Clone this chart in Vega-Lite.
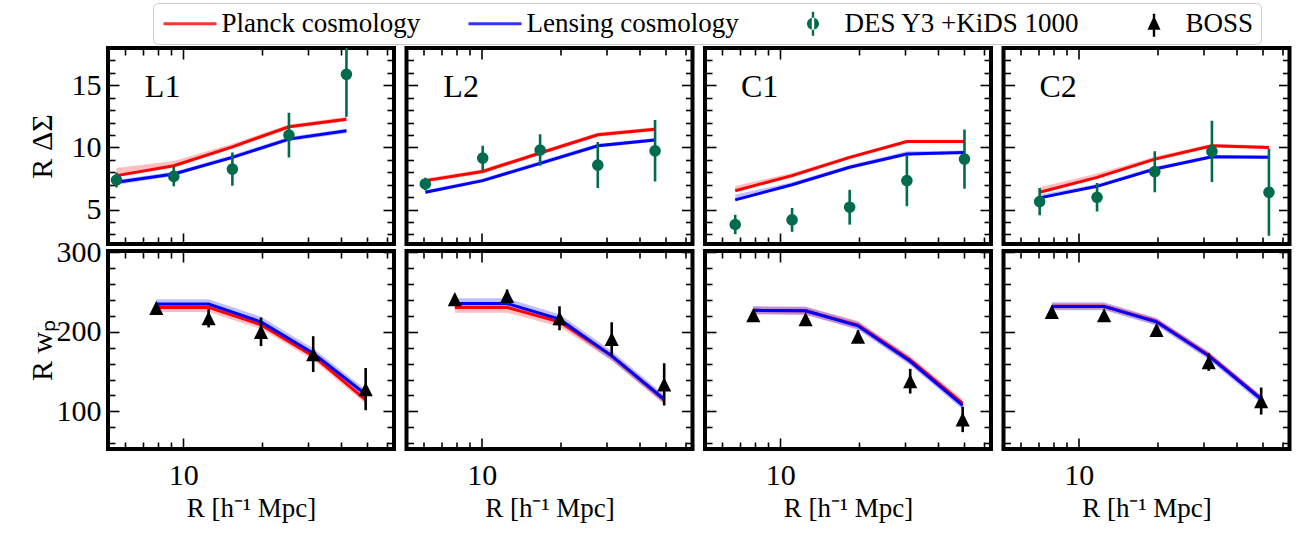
{
  "$schema": "https://vega.github.io/schema/vega-lite/v6.json",
  "autosize": {"type": "pad"},
  "padding": {"left": 25, "top": 2, "right": 4, "bottom": 3},
  "datasets": {
    "des": [
      {"s": "L1", "R": 5.57, "y": 7.38, "lo": 6.78, "hi": 7.98},
      {"s": "L1", "R": 9.21, "y": 7.67, "lo": 6.87, "hi": 8.47},
      {"s": "L1", "R": 15.4, "y": 8.26, "lo": 6.92, "hi": 9.6},
      {"s": "L1", "R": 25.3, "y": 10.99, "lo": 9.19, "hi": 12.79},
      {"s": "L1", "R": 41.9, "y": 15.88, "lo": 12.46, "hi": 19.3},
      {"s": "L2", "R": 6.1, "y": 7.06, "lo": 6.56, "hi": 7.56},
      {"s": "L2", "R": 10.09, "y": 9.14, "lo": 8.14, "hi": 10.14},
      {"s": "L2", "R": 16.7, "y": 9.79, "lo": 8.52, "hi": 11.06},
      {"s": "L2", "R": 27.7, "y": 8.58, "lo": 6.73, "hi": 10.43},
      {"s": "L2", "R": 45.8, "y": 9.73, "lo": 7.26, "hi": 12.2},
      {"s": "C1", "R": 6.74, "y": 3.8, "lo": 3.02, "hi": 4.58},
      {"s": "C1", "R": 11.1, "y": 4.17, "lo": 3.21, "hi": 5.13},
      {"s": "C1", "R": 18.4, "y": 5.19, "lo": 3.79, "hi": 6.59},
      {"s": "C1", "R": 30.4, "y": 7.33, "lo": 5.27, "hi": 9.39},
      {"s": "C1", "R": 50.4, "y": 9.06, "lo": 6.68, "hi": 11.44},
      {"s": "C2", "R": 7.1, "y": 5.64, "lo": 4.54, "hi": 6.74},
      {"s": "C2", "R": 11.75, "y": 5.99, "lo": 4.84, "hi": 7.14},
      {"s": "C2", "R": 19.5, "y": 8.05, "lo": 6.4, "hi": 9.7},
      {"s": "C2", "R": 32.2, "y": 9.68, "lo": 7.21, "hi": 12.15},
      {"s": "C2", "R": 53.1, "y": 6.39, "lo": 2.89, "hi": 9.89}
    ],
    "boss": [
      {"s": "L1", "R": 7.9, "y": 230, "lo": 225, "hi": 235},
      {"s": "L1", "R": 12.5, "y": 217, "lo": 205.5, "hi": 228.5},
      {"s": "L1", "R": 19.8, "y": 200, "lo": 182, "hi": 218},
      {"s": "L1", "R": 31.3, "y": 172, "lo": 149.5, "hi": 194.5},
      {"s": "L1", "R": 49.6, "y": 128, "lo": 101.5, "hi": 154.5},
      {"s": "L2", "R": 7.9, "y": 241, "lo": 237, "hi": 245},
      {"s": "L2", "R": 12.5, "y": 245, "lo": 237, "hi": 253},
      {"s": "L2", "R": 19.8, "y": 217, "lo": 202, "hi": 232},
      {"s": "L2", "R": 31.3, "y": 191, "lo": 170, "hi": 212},
      {"s": "L2", "R": 49.6, "y": 134, "lo": 107.5, "hi": 160.5},
      {"s": "C1", "R": 7.9, "y": 221, "lo": 218, "hi": 224},
      {"s": "C1", "R": 12.5, "y": 216, "lo": 212, "hi": 220},
      {"s": "C1", "R": 19.8, "y": 194, "lo": 186, "hi": 202},
      {"s": "C1", "R": 31.3, "y": 138, "lo": 122.5, "hi": 153.5},
      {"s": "C1", "R": 49.6, "y": 90, "lo": 74, "hi": 106},
      {"s": "C2", "R": 7.9, "y": 225, "lo": 222, "hi": 228},
      {"s": "C2", "R": 12.5, "y": 221, "lo": 218, "hi": 224},
      {"s": "C2", "R": 19.8, "y": 202.5, "lo": 197.5, "hi": 207.5},
      {"s": "C2", "R": 31.3, "y": 162, "lo": 151, "hi": 173},
      {"s": "C2", "R": 49.6, "y": 113, "lo": 96, "hi": 130}
    ],
    "mt": [
      {"s": "L1", "c": "Planck", "R": 5.57, "y": 7.73, "lo": 7.6, "hi": 8.35},
      {"s": "L1", "c": "Planck", "R": 9.21, "y": 8.53, "lo": 8.4, "hi": 8.9},
      {"s": "L1", "c": "Planck", "R": 15.4, "y": 10.05, "lo": 9.9, "hi": 10.3},
      {"s": "L1", "c": "Planck", "R": 25.3, "y": 11.66, "lo": 11.5, "hi": 11.85},
      {"s": "L1", "c": "Planck", "R": 41.9, "y": 12.27, "lo": 12.1, "hi": 12.45},
      {"s": "L1", "c": "Lensing", "R": 5.57, "y": 7.19, "lo": 7.0, "hi": 7.4},
      {"s": "L1", "c": "Lensing", "R": 9.21, "y": 7.86, "lo": 7.7, "hi": 8.05},
      {"s": "L1", "c": "Lensing", "R": 15.4, "y": 9.2, "lo": 9.05, "hi": 9.4},
      {"s": "L1", "c": "Lensing", "R": 25.3, "y": 10.67, "lo": 10.5, "hi": 10.85},
      {"s": "L1", "c": "Lensing", "R": 41.9, "y": 11.34, "lo": 11.15, "hi": 11.5},
      {"s": "L2", "c": "Planck", "R": 6.1, "y": 7.33, "lo": 7.15, "hi": 7.5},
      {"s": "L2", "c": "Planck", "R": 10.09, "y": 8.07, "lo": 7.9, "hi": 8.25},
      {"s": "L2", "c": "Planck", "R": 16.7, "y": 9.55, "lo": 9.4, "hi": 9.72},
      {"s": "L2", "c": "Planck", "R": 27.7, "y": 11.02, "lo": 10.85, "hi": 11.2},
      {"s": "L2", "c": "Planck", "R": 45.8, "y": 11.47, "lo": 11.3, "hi": 11.62},
      {"s": "L2", "c": "Lensing", "R": 6.1, "y": 6.39, "lo": 6.25, "hi": 6.55},
      {"s": "L2", "c": "Lensing", "R": 10.09, "y": 7.33, "lo": 7.2, "hi": 7.5},
      {"s": "L2", "c": "Lensing", "R": 16.7, "y": 8.72, "lo": 8.57, "hi": 8.9},
      {"s": "L2", "c": "Lensing", "R": 27.7, "y": 10.13, "lo": 9.98, "hi": 10.3},
      {"s": "L2", "c": "Lensing", "R": 45.8, "y": 10.59, "lo": 10.45, "hi": 10.75},
      {"s": "C1", "c": "Planck", "R": 6.74, "y": 6.52, "lo": 6.45, "hi": 6.9},
      {"s": "C1", "c": "Planck", "R": 11.1, "y": 7.73, "lo": 7.6, "hi": 7.95},
      {"s": "C1", "c": "Planck", "R": 18.4, "y": 9.2, "lo": 9.05, "hi": 9.35},
      {"s": "C1", "c": "Planck", "R": 30.4, "y": 10.48, "lo": 10.33, "hi": 10.62},
      {"s": "C1", "c": "Planck", "R": 50.4, "y": 10.48, "lo": 10.33, "hi": 10.62},
      {"s": "C1", "c": "Lensing", "R": 6.74, "y": 5.78, "lo": 5.72, "hi": 6.2},
      {"s": "C1", "c": "Lensing", "R": 11.1, "y": 7.0, "lo": 6.87, "hi": 7.2},
      {"s": "C1", "c": "Lensing", "R": 18.4, "y": 8.4, "lo": 8.27, "hi": 8.58},
      {"s": "C1", "c": "Lensing", "R": 30.4, "y": 9.47, "lo": 9.33, "hi": 9.7},
      {"s": "C1", "c": "Lensing", "R": 50.4, "y": 9.6, "lo": 9.47, "hi": 9.75},
      {"s": "C2", "c": "Planck", "R": 7.1, "y": 6.39, "lo": 6.3, "hi": 6.8},
      {"s": "C2", "c": "Planck", "R": 11.75, "y": 7.59, "lo": 7.45, "hi": 7.9},
      {"s": "C2", "c": "Planck", "R": 19.5, "y": 9.06, "lo": 8.92, "hi": 9.25},
      {"s": "C2", "c": "Planck", "R": 32.2, "y": 10.13, "lo": 10.0, "hi": 10.3},
      {"s": "C2", "c": "Planck", "R": 53.1, "y": 10.0, "lo": 9.87, "hi": 10.15},
      {"s": "C2", "c": "Lensing", "R": 7.1, "y": 5.94, "lo": 5.85, "hi": 6.2},
      {"s": "C2", "c": "Lensing", "R": 11.75, "y": 6.87, "lo": 6.75, "hi": 7.05},
      {"s": "C2", "c": "Lensing", "R": 19.5, "y": 8.26, "lo": 8.13, "hi": 8.45},
      {"s": "C2", "c": "Lensing", "R": 32.2, "y": 9.25, "lo": 9.12, "hi": 9.4},
      {"s": "C2", "c": "Lensing", "R": 53.1, "y": 9.2, "lo": 9.07, "hi": 9.35}
    ],
    "mb": [
      {"s": "L1", "c": "Planck", "R": 7.9, "y": 230.6, "lo": 225, "hi": 234},
      {"s": "L1", "c": "Planck", "R": 12.5, "y": 230.6, "lo": 225, "hi": 234},
      {"s": "L1", "c": "Planck", "R": 19.8, "y": 209, "lo": 203.5, "hi": 213},
      {"s": "L1", "c": "Planck", "R": 31.3, "y": 169.8, "lo": 164.5, "hi": 174},
      {"s": "L1", "c": "Planck", "R": 49.6, "y": 114.5, "lo": 109.5, "hi": 118.5},
      {"s": "L1", "c": "Lensing", "R": 7.9, "y": 234.8, "lo": 229, "hi": 241},
      {"s": "L1", "c": "Lensing", "R": 12.5, "y": 234.8, "lo": 229, "hi": 241},
      {"s": "L1", "c": "Lensing", "R": 19.8, "y": 212.5, "lo": 206.5, "hi": 219},
      {"s": "L1", "c": "Lensing", "R": 31.3, "y": 173, "lo": 167, "hi": 179},
      {"s": "L1", "c": "Lensing", "R": 49.6, "y": 121.6, "lo": 116, "hi": 127.5},
      {"s": "L2", "c": "Planck", "R": 7.9, "y": 230.6, "lo": 224, "hi": 234},
      {"s": "L2", "c": "Planck", "R": 12.5, "y": 230.6, "lo": 224, "hi": 234},
      {"s": "L2", "c": "Planck", "R": 19.8, "y": 212.6, "lo": 206.5, "hi": 216},
      {"s": "L2", "c": "Planck", "R": 31.3, "y": 169.8, "lo": 164, "hi": 173.5},
      {"s": "L2", "c": "Planck", "R": 49.6, "y": 114.5, "lo": 109, "hi": 118},
      {"s": "L2", "c": "Lensing", "R": 7.9, "y": 235.6, "lo": 230, "hi": 242},
      {"s": "L2", "c": "Lensing", "R": 12.5, "y": 235.6, "lo": 230, "hi": 242},
      {"s": "L2", "c": "Lensing", "R": 19.8, "y": 215.9, "lo": 210, "hi": 222},
      {"s": "L2", "c": "Lensing", "R": 31.3, "y": 169.8, "lo": 164, "hi": 176},
      {"s": "L2", "c": "Lensing", "R": 49.6, "y": 115.3, "lo": 110, "hi": 121},
      {"s": "C1", "c": "Planck", "R": 7.9, "y": 227, "lo": 222, "hi": 232},
      {"s": "C1", "c": "Planck", "R": 12.5, "y": 226.4, "lo": 221.5, "hi": 231.5},
      {"s": "C1", "c": "Planck", "R": 19.8, "y": 208.5, "lo": 203.5, "hi": 213.5},
      {"s": "C1", "c": "Planck", "R": 31.3, "y": 164.5, "lo": 159.5, "hi": 169.5},
      {"s": "C1", "c": "Planck", "R": 49.6, "y": 110, "lo": 105, "hi": 115},
      {"s": "C1", "c": "Lensing", "R": 7.9, "y": 227, "lo": 222, "hi": 232},
      {"s": "C1", "c": "Lensing", "R": 12.5, "y": 226.4, "lo": 221.5, "hi": 231.5},
      {"s": "C1", "c": "Lensing", "R": 19.8, "y": 207.5, "lo": 202.5, "hi": 212.5},
      {"s": "C1", "c": "Lensing", "R": 31.3, "y": 163, "lo": 158, "hi": 168},
      {"s": "C1", "c": "Lensing", "R": 49.6, "y": 107.5, "lo": 102.5, "hi": 112.5},
      {"s": "C2", "c": "Planck", "R": 7.9, "y": 232, "lo": 228, "hi": 236},
      {"s": "C2", "c": "Planck", "R": 12.5, "y": 232, "lo": 228, "hi": 236},
      {"s": "C2", "c": "Planck", "R": 19.8, "y": 213, "lo": 209, "hi": 217},
      {"s": "C2", "c": "Planck", "R": 31.3, "y": 170.5, "lo": 166.5, "hi": 174.5},
      {"s": "C2", "c": "Planck", "R": 49.6, "y": 116, "lo": 112, "hi": 120},
      {"s": "C2", "c": "Lensing", "R": 7.9, "y": 231.9, "lo": 227, "hi": 237},
      {"s": "C2", "c": "Lensing", "R": 12.5, "y": 231.9, "lo": 227, "hi": 237},
      {"s": "C2", "c": "Lensing", "R": 19.8, "y": 212.6, "lo": 207.5, "hi": 217.5},
      {"s": "C2", "c": "Lensing", "R": 31.3, "y": 169.8, "lo": 165, "hi": 175},
      {"s": "C2", "c": "Lensing", "R": 49.6, "y": 115.3, "lo": 110, "hi": 120}
    ]
  },
  "spacing": 6.5,
  "hconcat": [
    {
      "spacing": 7,
      "bounds": "flush",
      "vconcat": [
        {
          "width": 286, "height": 196,
          "layer": [
            {"data": {"name": "mt"}, "transform": [{"filter": "datum.s == 'L1' && datum.c == 'Planck'"}],
             "mark": {"type": "area", "color": "#ff0000", "opacity": 0.25},
             "encoding": {
               "x": {"field": "R", "type": "quantitative", "scale": {"type": "log", "domain": [5.17, 63.6], "nice": false},
                     "axis": {"orient": "bottom", "values": [6,7,8,9,10,20,30,40,50,60], "tickSize": {"condition": {"test": "datum.value == 10", "value": -11}, "value": -7}, "labels": false, "title": null}},
               "y": {"field": "lo", "type": "quantitative", "scale": {"domain": [2.23, 18], "nice": false, "zero": false},
                     "axis": {"orient": "left", "values": [3,4,5,6,7,8,9,10,11,12,13,14,15,16,17,18], "tickSize": {"condition": {"test": "datum.value % 5 == 0", "value": -11}, "value": -7}, "labelExpr": "datum.value % 5 == 0 ? datum.label : ''", "labelPadding": 18, "title": "R ΔΣ", "titleX": -66, "titleY": 98, "titleAngle": 270, "titleAlign": "center", "titleBaseline": "middle", "titleFontSize": 30}},
               "y2": {"field": "hi"}}},
            {"data": {"name": "mt"}, "transform": [{"filter": "datum.s == 'L1' && datum.c == 'Lensing'"}],
             "mark": {"type": "area", "color": "#0000ff", "opacity": 0.25},
             "encoding": {
               "x": {"field": "R", "type": "quantitative", "scale": {"type": "log", "domain": [5.17, 63.6], "nice": false},
                     "axis": {"orient": "top", "values": [6,7,8,9,10,20,30,40,50,60], "tickSize": {"condition": {"test": "datum.value == 10", "value": -11}, "value": -7}, "labels": false, "title": null}},
               "y": {"field": "lo", "type": "quantitative", "scale": {"domain": [2.23, 18], "nice": false, "zero": false},
                     "axis": {"orient": "right", "values": [3,4,5,6,7,8,9,10,11,12,13,14,15,16,17,18], "tickSize": {"condition": {"test": "datum.value % 5 == 0", "value": -11}, "value": -7}, "labels": false, "title": null}},
               "y2": {"field": "hi"}}},
            {"data": {"name": "mt"}, "transform": [{"filter": "datum.s == 'L1' && datum.c == 'Planck'"}],
             "mark": {"type": "line", "color": "#ff0000", "strokeWidth": 3},
             "encoding": {"x": {"field": "R", "type": "quantitative", "axis": null}, "y": {"field": "y", "type": "quantitative", "axis": null}}},
            {"data": {"name": "mt"}, "transform": [{"filter": "datum.s == 'L1' && datum.c == 'Lensing'"}],
             "mark": {"type": "line", "color": "#0000ff", "strokeWidth": 3},
             "encoding": {"x": {"field": "R", "type": "quantitative", "axis": null}, "y": {"field": "y", "type": "quantitative", "axis": null}}},
            {"data": {"name": "des"}, "transform": [{"filter": "datum.s == 'L1'"}],
             "mark": {"type": "rule", "color": "#006b4d", "strokeWidth": 2.6, "clip": true},
             "encoding": {"x": {"field": "R", "type": "quantitative", "axis": null}, "y": {"field": "lo", "type": "quantitative", "axis": null}, "y2": {"field": "hi"}}},
            {"data": {"name": "des"}, "transform": [{"filter": "datum.s == 'L1'"}],
             "mark": {"type": "point", "shape": "circle", "filled": true, "opacity": 1, "color": "#006b4d", "size": 135},
             "encoding": {"x": {"field": "R", "type": "quantitative", "axis": null}, "y": {"field": "y", "type": "quantitative", "axis": null}}},
            {"data": {"values": [{"label": "L1"}]},
             "mark": {"type": "text", "fontSize": 32, "align": "center", "baseline": "middle", "color": "black"},
             "encoding": {"x": {"datum": 8.35, "type": "quantitative", "axis": null}, "y": {"datum": 14.85, "type": "quantitative", "axis": null}, "text": {"field": "label"}}},
            {"data": {"values": [{"k": "Planck cosmology"}, {"k": "Lensing cosmology"}, {"k": "DES Y3 +KiDS 1000"}, {"k": "BOSS"}]},
             "mark": {"type": "point", "opacity": 0},
             "encoding": {"color": {"field": "k", "type": "nominal",
               "scale": {"domain": ["Planck cosmology", "Lensing cosmology", "DES Y3 +KiDS 1000", "BOSS"], "range": ["#ff0000", "#0000ff", "#006b4d", "#000000"]},
               "legend": {"orient": "none", "legendX": 45, "legendY": -45, "direction": "horizontal", "title": null,
                 "labelFont": "Liberation Serif", "labelFontSize": 27, "labelColor": "black", "labelLimit": 500,
                 "labelOffset": 18, "symbolOffset": 16.5, "columnPadding": 44, "symbolSize": 400, "symbolStrokeWidth": 0, "symbolOpacity": 1,
                 "padding": 7, "strokeColor": "#cccccc", "fillColor": "white", "cornerRadius": 5,
                 "encoding": {"symbols": {
                   "shape": {"value": {"expr": "datum.value == 'BOSS' ? 'M0,-0.8L0.65,0.6L-0.65,0.6Z M-0.12,-1.0L0.12,-1.0L0.12,1.3L-0.12,1.3Z' : datum.value == 'DES Y3 +KiDS 1000' ? 'M-0.6,0A0.6,0.6 0 1,0 0.6,0A0.6,0.6 0 1,0 -0.6,0Z M-0.12,-1.2L0.12,-1.2L0.12,1.2L-0.12,1.2Z' : 'M-2.65,-0.15L2.65,-0.15L2.65,0.15L-2.65,0.15Z'"}},
                   "fill": {"value": {"expr": "datum.value == 'Planck cosmology' ? '#ff3333' : datum.value == 'Lensing cosmology' ? '#3333ff' : datum.value == 'BOSS' ? 'black' : '#006b4d'"}},
                   "opacity": {"value": 1},
                   "strokeWidth": {"value": 0}
                 }}}}}}
          ],
          "resolve": {"axis": {"x": "independent", "y": "independent"}}
        },
        {
          "width": 286, "height": 198,
          "layer": [
            {"data": {"name": "mb"}, "transform": [{"filter": "datum.s == 'L1' && datum.c == 'Planck'"}],
             "mark": {"type": "area", "color": "#ff0000", "opacity": 0.25},
             "encoding": {
               "x": {"field": "R", "type": "quantitative", "scale": {"type": "log", "domain": [5.17, 63.6], "nice": false},
                     "axis": {"orient": "bottom", "values": [6,7,8,9,10,20,30,40,50,60], "tickSize": {"condition": {"test": "datum.value == 10", "value": -11}, "value": -7}, "labelExpr": "datum.value == 10 ? '10' : ''", "labelPadding": 22, "title": "R [h⁻¹ Mpc]", "titlePadding": 1}},
               "y": {"field": "lo", "type": "quantitative", "scale": {"domain": [52.8, 301.5], "nice": false, "zero": false},
                     "axis": {"orient": "left", "values": [60,80,100,120,140,160,180,200,220,240,260,280,300], "tickSize": {"condition": {"test": "datum.value % 100 == 0", "value": -11}, "value": -7}, "labelExpr": "datum.value % 100 == 0 ? datum.label : ''", "labelPadding": 18, "title": "R wₚ", "titleX": -66, "titleY": 99, "titleAngle": 270, "titleAlign": "center", "titleBaseline": "middle", "titleFontSize": 30}},
               "y2": {"field": "hi"}}},
            {"data": {"name": "mb"}, "transform": [{"filter": "datum.s == 'L1' && datum.c == 'Lensing'"}],
             "mark": {"type": "area", "color": "#0000ff", "opacity": 0.25},
             "encoding": {
               "x": {"field": "R", "type": "quantitative", "scale": {"type": "log", "domain": [5.17, 63.6], "nice": false},
                     "axis": {"orient": "top", "values": [6,7,8,9,10,20,30,40,50,60], "tickSize": {"condition": {"test": "datum.value == 10", "value": -11}, "value": -7}, "labels": false, "title": null}},
               "y": {"field": "lo", "type": "quantitative", "scale": {"domain": [52.8, 301.5], "nice": false, "zero": false},
                     "axis": {"orient": "right", "values": [60,80,100,120,140,160,180,200,220,240,260,280,300], "tickSize": {"condition": {"test": "datum.value % 100 == 0", "value": -11}, "value": -7}, "labels": false, "title": null}},
               "y2": {"field": "hi"}}},
            {"data": {"name": "mb"}, "transform": [{"filter": "datum.s == 'L1' && datum.c == 'Planck'"}],
             "mark": {"type": "line", "color": "#ff0000", "strokeWidth": 3},
             "encoding": {"x": {"field": "R", "type": "quantitative", "axis": null}, "y": {"field": "y", "type": "quantitative", "axis": null}}},
            {"data": {"name": "mb"}, "transform": [{"filter": "datum.s == 'L1' && datum.c == 'Lensing'"}],
             "mark": {"type": "line", "color": "#0000ff", "strokeWidth": 3},
             "encoding": {"x": {"field": "R", "type": "quantitative", "axis": null}, "y": {"field": "y", "type": "quantitative", "axis": null}}},
            {"data": {"name": "boss"}, "transform": [{"filter": "datum.s == 'L1'"}],
             "mark": {"type": "rule", "color": "black", "strokeWidth": 2.6, "clip": true},
             "encoding": {"x": {"field": "R", "type": "quantitative", "axis": null}, "y": {"field": "lo", "type": "quantitative", "axis": null}, "y2": {"field": "hi"}}},
            {"data": {"name": "boss"}, "transform": [{"filter": "datum.s == 'L1'"}],
             "mark": {"type": "point", "shape": "M0,-1L1,1L-1,1Z", "filled": true, "opacity": 1, "color": "black", "size": 200},
             "encoding": {"x": {"field": "R", "type": "quantitative", "axis": null}, "y": {"field": "y", "type": "quantitative", "axis": null}}}
          ],
          "resolve": {"axis": {"x": "independent", "y": "independent"}}
        }
      ]
    },
    {
      "spacing": 7,
      "bounds": "flush",
      "vconcat": [
        {
          "width": 286, "height": 196,
          "layer": [
            {"data": {"name": "mt"}, "transform": [{"filter": "datum.s == 'L2' && datum.c == 'Planck'"}],
             "mark": {"type": "area", "color": "#ff0000", "opacity": 0.25},
             "encoding": {
               "x": {"field": "R", "type": "quantitative", "scale": {"type": "log", "domain": [5.17, 63.6], "nice": false},
                     "axis": {"orient": "bottom", "values": [6,7,8,9,10,20,30,40,50,60], "tickSize": {"condition": {"test": "datum.value == 10", "value": -11}, "value": -7}, "labels": false, "title": null}},
               "y": {"field": "lo", "type": "quantitative", "scale": {"domain": [2.23, 18], "nice": false, "zero": false},
                     "axis": {"orient": "left", "values": [3,4,5,6,7,8,9,10,11,12,13,14,15,16,17,18], "tickSize": {"condition": {"test": "datum.value % 5 == 0", "value": -11}, "value": -7}, "labels": false, "title": null}},
               "y2": {"field": "hi"}}},
            {"data": {"name": "mt"}, "transform": [{"filter": "datum.s == 'L2' && datum.c == 'Lensing'"}],
             "mark": {"type": "area", "color": "#0000ff", "opacity": 0.25},
             "encoding": {
               "x": {"field": "R", "type": "quantitative", "scale": {"type": "log", "domain": [5.17, 63.6], "nice": false},
                     "axis": {"orient": "top", "values": [6,7,8,9,10,20,30,40,50,60], "tickSize": {"condition": {"test": "datum.value == 10", "value": -11}, "value": -7}, "labels": false, "title": null}},
               "y": {"field": "lo", "type": "quantitative", "scale": {"domain": [2.23, 18], "nice": false, "zero": false},
                     "axis": {"orient": "right", "values": [3,4,5,6,7,8,9,10,11,12,13,14,15,16,17,18], "tickSize": {"condition": {"test": "datum.value % 5 == 0", "value": -11}, "value": -7}, "labels": false, "title": null}},
               "y2": {"field": "hi"}}},
            {"data": {"name": "mt"}, "transform": [{"filter": "datum.s == 'L2' && datum.c == 'Planck'"}],
             "mark": {"type": "line", "color": "#ff0000", "strokeWidth": 3},
             "encoding": {"x": {"field": "R", "type": "quantitative", "axis": null}, "y": {"field": "y", "type": "quantitative", "axis": null}}},
            {"data": {"name": "mt"}, "transform": [{"filter": "datum.s == 'L2' && datum.c == 'Lensing'"}],
             "mark": {"type": "line", "color": "#0000ff", "strokeWidth": 3},
             "encoding": {"x": {"field": "R", "type": "quantitative", "axis": null}, "y": {"field": "y", "type": "quantitative", "axis": null}}},
            {"data": {"name": "des"}, "transform": [{"filter": "datum.s == 'L2'"}],
             "mark": {"type": "rule", "color": "#006b4d", "strokeWidth": 2.6, "clip": true},
             "encoding": {"x": {"field": "R", "type": "quantitative", "axis": null}, "y": {"field": "lo", "type": "quantitative", "axis": null}, "y2": {"field": "hi"}}},
            {"data": {"name": "des"}, "transform": [{"filter": "datum.s == 'L2'"}],
             "mark": {"type": "point", "shape": "circle", "filled": true, "opacity": 1, "color": "#006b4d", "size": 135},
             "encoding": {"x": {"field": "R", "type": "quantitative", "axis": null}, "y": {"field": "y", "type": "quantitative", "axis": null}}},
            {"data": {"values": [{"label": "L2"}]},
             "mark": {"type": "text", "fontSize": 32, "align": "center", "baseline": "middle", "color": "black"},
             "encoding": {"x": {"datum": 8.35, "type": "quantitative", "axis": null}, "y": {"datum": 14.85, "type": "quantitative", "axis": null}, "text": {"field": "label"}}}
          ],
          "resolve": {"axis": {"x": "independent", "y": "independent"}}
        },
        {
          "width": 286, "height": 198,
          "layer": [
            {"data": {"name": "mb"}, "transform": [{"filter": "datum.s == 'L2' && datum.c == 'Planck'"}],
             "mark": {"type": "area", "color": "#ff0000", "opacity": 0.25},
             "encoding": {
               "x": {"field": "R", "type": "quantitative", "scale": {"type": "log", "domain": [5.17, 63.6], "nice": false},
                     "axis": {"orient": "bottom", "values": [6,7,8,9,10,20,30,40,50,60], "tickSize": {"condition": {"test": "datum.value == 10", "value": -11}, "value": -7}, "labelExpr": "datum.value == 10 ? '10' : ''", "labelPadding": 22, "title": "R [h⁻¹ Mpc]", "titlePadding": 1}},
               "y": {"field": "lo", "type": "quantitative", "scale": {"domain": [52.8, 301.5], "nice": false, "zero": false},
                     "axis": {"orient": "left", "values": [60,80,100,120,140,160,180,200,220,240,260,280,300], "tickSize": {"condition": {"test": "datum.value % 100 == 0", "value": -11}, "value": -7}, "labels": false, "title": null}},
               "y2": {"field": "hi"}}},
            {"data": {"name": "mb"}, "transform": [{"filter": "datum.s == 'L2' && datum.c == 'Lensing'"}],
             "mark": {"type": "area", "color": "#0000ff", "opacity": 0.25},
             "encoding": {
               "x": {"field": "R", "type": "quantitative", "scale": {"type": "log", "domain": [5.17, 63.6], "nice": false},
                     "axis": {"orient": "top", "values": [6,7,8,9,10,20,30,40,50,60], "tickSize": {"condition": {"test": "datum.value == 10", "value": -11}, "value": -7}, "labels": false, "title": null}},
               "y": {"field": "lo", "type": "quantitative", "scale": {"domain": [52.8, 301.5], "nice": false, "zero": false},
                     "axis": {"orient": "right", "values": [60,80,100,120,140,160,180,200,220,240,260,280,300], "tickSize": {"condition": {"test": "datum.value % 100 == 0", "value": -11}, "value": -7}, "labels": false, "title": null}},
               "y2": {"field": "hi"}}},
            {"data": {"name": "mb"}, "transform": [{"filter": "datum.s == 'L2' && datum.c == 'Planck'"}],
             "mark": {"type": "line", "color": "#ff0000", "strokeWidth": 3},
             "encoding": {"x": {"field": "R", "type": "quantitative", "axis": null}, "y": {"field": "y", "type": "quantitative", "axis": null}}},
            {"data": {"name": "mb"}, "transform": [{"filter": "datum.s == 'L2' && datum.c == 'Lensing'"}],
             "mark": {"type": "line", "color": "#0000ff", "strokeWidth": 3},
             "encoding": {"x": {"field": "R", "type": "quantitative", "axis": null}, "y": {"field": "y", "type": "quantitative", "axis": null}}},
            {"data": {"name": "boss"}, "transform": [{"filter": "datum.s == 'L2'"}],
             "mark": {"type": "rule", "color": "black", "strokeWidth": 2.6, "clip": true},
             "encoding": {"x": {"field": "R", "type": "quantitative", "axis": null}, "y": {"field": "lo", "type": "quantitative", "axis": null}, "y2": {"field": "hi"}}},
            {"data": {"name": "boss"}, "transform": [{"filter": "datum.s == 'L2'"}],
             "mark": {"type": "point", "shape": "M0,-1L1,1L-1,1Z", "filled": true, "opacity": 1, "color": "black", "size": 200},
             "encoding": {"x": {"field": "R", "type": "quantitative", "axis": null}, "y": {"field": "y", "type": "quantitative", "axis": null}}}
          ],
          "resolve": {"axis": {"x": "independent", "y": "independent"}}
        }
      ]
    },
    {
      "spacing": 7,
      "bounds": "flush",
      "vconcat": [
        {
          "width": 286, "height": 196,
          "layer": [
            {"data": {"name": "mt"}, "transform": [{"filter": "datum.s == 'C1' && datum.c == 'Planck'"}],
             "mark": {"type": "area", "color": "#ff0000", "opacity": 0.25},
             "encoding": {
               "x": {"field": "R", "type": "quantitative", "scale": {"type": "log", "domain": [5.17, 63.6], "nice": false},
                     "axis": {"orient": "bottom", "values": [6,7,8,9,10,20,30,40,50,60], "tickSize": {"condition": {"test": "datum.value == 10", "value": -11}, "value": -7}, "labels": false, "title": null}},
               "y": {"field": "lo", "type": "quantitative", "scale": {"domain": [2.23, 18], "nice": false, "zero": false},
                     "axis": {"orient": "left", "values": [3,4,5,6,7,8,9,10,11,12,13,14,15,16,17,18], "tickSize": {"condition": {"test": "datum.value % 5 == 0", "value": -11}, "value": -7}, "labels": false, "title": null}},
               "y2": {"field": "hi"}}},
            {"data": {"name": "mt"}, "transform": [{"filter": "datum.s == 'C1' && datum.c == 'Lensing'"}],
             "mark": {"type": "area", "color": "#0000ff", "opacity": 0.25},
             "encoding": {
               "x": {"field": "R", "type": "quantitative", "scale": {"type": "log", "domain": [5.17, 63.6], "nice": false},
                     "axis": {"orient": "top", "values": [6,7,8,9,10,20,30,40,50,60], "tickSize": {"condition": {"test": "datum.value == 10", "value": -11}, "value": -7}, "labels": false, "title": null}},
               "y": {"field": "lo", "type": "quantitative", "scale": {"domain": [2.23, 18], "nice": false, "zero": false},
                     "axis": {"orient": "right", "values": [3,4,5,6,7,8,9,10,11,12,13,14,15,16,17,18], "tickSize": {"condition": {"test": "datum.value % 5 == 0", "value": -11}, "value": -7}, "labels": false, "title": null}},
               "y2": {"field": "hi"}}},
            {"data": {"name": "mt"}, "transform": [{"filter": "datum.s == 'C1' && datum.c == 'Planck'"}],
             "mark": {"type": "line", "color": "#ff0000", "strokeWidth": 3},
             "encoding": {"x": {"field": "R", "type": "quantitative", "axis": null}, "y": {"field": "y", "type": "quantitative", "axis": null}}},
            {"data": {"name": "mt"}, "transform": [{"filter": "datum.s == 'C1' && datum.c == 'Lensing'"}],
             "mark": {"type": "line", "color": "#0000ff", "strokeWidth": 3},
             "encoding": {"x": {"field": "R", "type": "quantitative", "axis": null}, "y": {"field": "y", "type": "quantitative", "axis": null}}},
            {"data": {"name": "des"}, "transform": [{"filter": "datum.s == 'C1'"}],
             "mark": {"type": "rule", "color": "#006b4d", "strokeWidth": 2.6, "clip": true},
             "encoding": {"x": {"field": "R", "type": "quantitative", "axis": null}, "y": {"field": "lo", "type": "quantitative", "axis": null}, "y2": {"field": "hi"}}},
            {"data": {"name": "des"}, "transform": [{"filter": "datum.s == 'C1'"}],
             "mark": {"type": "point", "shape": "circle", "filled": true, "opacity": 1, "color": "#006b4d", "size": 135},
             "encoding": {"x": {"field": "R", "type": "quantitative", "axis": null}, "y": {"field": "y", "type": "quantitative", "axis": null}}},
            {"data": {"values": [{"label": "C1"}]},
             "mark": {"type": "text", "fontSize": 32, "align": "center", "baseline": "middle", "color": "black"},
             "encoding": {"x": {"datum": 8.35, "type": "quantitative", "axis": null}, "y": {"datum": 14.85, "type": "quantitative", "axis": null}, "text": {"field": "label"}}}
          ],
          "resolve": {"axis": {"x": "independent", "y": "independent"}}
        },
        {
          "width": 286, "height": 198,
          "layer": [
            {"data": {"name": "mb"}, "transform": [{"filter": "datum.s == 'C1' && datum.c == 'Planck'"}],
             "mark": {"type": "area", "color": "#ff0000", "opacity": 0.25},
             "encoding": {
               "x": {"field": "R", "type": "quantitative", "scale": {"type": "log", "domain": [5.17, 63.6], "nice": false},
                     "axis": {"orient": "bottom", "values": [6,7,8,9,10,20,30,40,50,60], "tickSize": {"condition": {"test": "datum.value == 10", "value": -11}, "value": -7}, "labelExpr": "datum.value == 10 ? '10' : ''", "labelPadding": 22, "title": "R [h⁻¹ Mpc]", "titlePadding": 1}},
               "y": {"field": "lo", "type": "quantitative", "scale": {"domain": [52.8, 301.5], "nice": false, "zero": false},
                     "axis": {"orient": "left", "values": [60,80,100,120,140,160,180,200,220,240,260,280,300], "tickSize": {"condition": {"test": "datum.value % 100 == 0", "value": -11}, "value": -7}, "labels": false, "title": null}},
               "y2": {"field": "hi"}}},
            {"data": {"name": "mb"}, "transform": [{"filter": "datum.s == 'C1' && datum.c == 'Lensing'"}],
             "mark": {"type": "area", "color": "#0000ff", "opacity": 0.25},
             "encoding": {
               "x": {"field": "R", "type": "quantitative", "scale": {"type": "log", "domain": [5.17, 63.6], "nice": false},
                     "axis": {"orient": "top", "values": [6,7,8,9,10,20,30,40,50,60], "tickSize": {"condition": {"test": "datum.value == 10", "value": -11}, "value": -7}, "labels": false, "title": null}},
               "y": {"field": "lo", "type": "quantitative", "scale": {"domain": [52.8, 301.5], "nice": false, "zero": false},
                     "axis": {"orient": "right", "values": [60,80,100,120,140,160,180,200,220,240,260,280,300], "tickSize": {"condition": {"test": "datum.value % 100 == 0", "value": -11}, "value": -7}, "labels": false, "title": null}},
               "y2": {"field": "hi"}}},
            {"data": {"name": "mb"}, "transform": [{"filter": "datum.s == 'C1' && datum.c == 'Planck'"}],
             "mark": {"type": "line", "color": "#ff0000", "strokeWidth": 3},
             "encoding": {"x": {"field": "R", "type": "quantitative", "axis": null}, "y": {"field": "y", "type": "quantitative", "axis": null}}},
            {"data": {"name": "mb"}, "transform": [{"filter": "datum.s == 'C1' && datum.c == 'Lensing'"}],
             "mark": {"type": "line", "color": "#0000ff", "strokeWidth": 3},
             "encoding": {"x": {"field": "R", "type": "quantitative", "axis": null}, "y": {"field": "y", "type": "quantitative", "axis": null}}},
            {"data": {"name": "boss"}, "transform": [{"filter": "datum.s == 'C1'"}],
             "mark": {"type": "rule", "color": "black", "strokeWidth": 2.6, "clip": true},
             "encoding": {"x": {"field": "R", "type": "quantitative", "axis": null}, "y": {"field": "lo", "type": "quantitative", "axis": null}, "y2": {"field": "hi"}}},
            {"data": {"name": "boss"}, "transform": [{"filter": "datum.s == 'C1'"}],
             "mark": {"type": "point", "shape": "M0,-1L1,1L-1,1Z", "filled": true, "opacity": 1, "color": "black", "size": 200},
             "encoding": {"x": {"field": "R", "type": "quantitative", "axis": null}, "y": {"field": "y", "type": "quantitative", "axis": null}}}
          ],
          "resolve": {"axis": {"x": "independent", "y": "independent"}}
        }
      ]
    },
    {
      "spacing": 7,
      "bounds": "flush",
      "vconcat": [
        {
          "width": 286, "height": 196,
          "layer": [
            {"data": {"name": "mt"}, "transform": [{"filter": "datum.s == 'C2' && datum.c == 'Planck'"}],
             "mark": {"type": "area", "color": "#ff0000", "opacity": 0.25},
             "encoding": {
               "x": {"field": "R", "type": "quantitative", "scale": {"type": "log", "domain": [5.17, 63.6], "nice": false},
                     "axis": {"orient": "bottom", "values": [6,7,8,9,10,20,30,40,50,60], "tickSize": {"condition": {"test": "datum.value == 10", "value": -11}, "value": -7}, "labels": false, "title": null}},
               "y": {"field": "lo", "type": "quantitative", "scale": {"domain": [2.23, 18], "nice": false, "zero": false},
                     "axis": {"orient": "left", "values": [3,4,5,6,7,8,9,10,11,12,13,14,15,16,17,18], "tickSize": {"condition": {"test": "datum.value % 5 == 0", "value": -11}, "value": -7}, "labels": false, "title": null}},
               "y2": {"field": "hi"}}},
            {"data": {"name": "mt"}, "transform": [{"filter": "datum.s == 'C2' && datum.c == 'Lensing'"}],
             "mark": {"type": "area", "color": "#0000ff", "opacity": 0.25},
             "encoding": {
               "x": {"field": "R", "type": "quantitative", "scale": {"type": "log", "domain": [5.17, 63.6], "nice": false},
                     "axis": {"orient": "top", "values": [6,7,8,9,10,20,30,40,50,60], "tickSize": {"condition": {"test": "datum.value == 10", "value": -11}, "value": -7}, "labels": false, "title": null}},
               "y": {"field": "lo", "type": "quantitative", "scale": {"domain": [2.23, 18], "nice": false, "zero": false},
                     "axis": {"orient": "right", "values": [3,4,5,6,7,8,9,10,11,12,13,14,15,16,17,18], "tickSize": {"condition": {"test": "datum.value % 5 == 0", "value": -11}, "value": -7}, "labels": false, "title": null}},
               "y2": {"field": "hi"}}},
            {"data": {"name": "mt"}, "transform": [{"filter": "datum.s == 'C2' && datum.c == 'Planck'"}],
             "mark": {"type": "line", "color": "#ff0000", "strokeWidth": 3},
             "encoding": {"x": {"field": "R", "type": "quantitative", "axis": null}, "y": {"field": "y", "type": "quantitative", "axis": null}}},
            {"data": {"name": "mt"}, "transform": [{"filter": "datum.s == 'C2' && datum.c == 'Lensing'"}],
             "mark": {"type": "line", "color": "#0000ff", "strokeWidth": 3},
             "encoding": {"x": {"field": "R", "type": "quantitative", "axis": null}, "y": {"field": "y", "type": "quantitative", "axis": null}}},
            {"data": {"name": "des"}, "transform": [{"filter": "datum.s == 'C2'"}],
             "mark": {"type": "rule", "color": "#006b4d", "strokeWidth": 2.6, "clip": true},
             "encoding": {"x": {"field": "R", "type": "quantitative", "axis": null}, "y": {"field": "lo", "type": "quantitative", "axis": null}, "y2": {"field": "hi"}}},
            {"data": {"name": "des"}, "transform": [{"filter": "datum.s == 'C2'"}],
             "mark": {"type": "point", "shape": "circle", "filled": true, "opacity": 1, "color": "#006b4d", "size": 135},
             "encoding": {"x": {"field": "R", "type": "quantitative", "axis": null}, "y": {"field": "y", "type": "quantitative", "axis": null}}},
            {"data": {"values": [{"label": "C2"}]},
             "mark": {"type": "text", "fontSize": 32, "align": "center", "baseline": "middle", "color": "black"},
             "encoding": {"x": {"datum": 8.35, "type": "quantitative", "axis": null}, "y": {"datum": 14.85, "type": "quantitative", "axis": null}, "text": {"field": "label"}}}
          ],
          "resolve": {"axis": {"x": "independent", "y": "independent"}}
        },
        {
          "width": 286, "height": 198,
          "layer": [
            {"data": {"name": "mb"}, "transform": [{"filter": "datum.s == 'C2' && datum.c == 'Planck'"}],
             "mark": {"type": "area", "color": "#ff0000", "opacity": 0.25},
             "encoding": {
               "x": {"field": "R", "type": "quantitative", "scale": {"type": "log", "domain": [5.17, 63.6], "nice": false},
                     "axis": {"orient": "bottom", "values": [6,7,8,9,10,20,30,40,50,60], "tickSize": {"condition": {"test": "datum.value == 10", "value": -11}, "value": -7}, "labelExpr": "datum.value == 10 ? '10' : ''", "labelPadding": 22, "title": "R [h⁻¹ Mpc]", "titlePadding": 1}},
               "y": {"field": "lo", "type": "quantitative", "scale": {"domain": [52.8, 301.5], "nice": false, "zero": false},
                     "axis": {"orient": "left", "values": [60,80,100,120,140,160,180,200,220,240,260,280,300], "tickSize": {"condition": {"test": "datum.value % 100 == 0", "value": -11}, "value": -7}, "labels": false, "title": null}},
               "y2": {"field": "hi"}}},
            {"data": {"name": "mb"}, "transform": [{"filter": "datum.s == 'C2' && datum.c == 'Lensing'"}],
             "mark": {"type": "area", "color": "#0000ff", "opacity": 0.25},
             "encoding": {
               "x": {"field": "R", "type": "quantitative", "scale": {"type": "log", "domain": [5.17, 63.6], "nice": false},
                     "axis": {"orient": "top", "values": [6,7,8,9,10,20,30,40,50,60], "tickSize": {"condition": {"test": "datum.value == 10", "value": -11}, "value": -7}, "labels": false, "title": null}},
               "y": {"field": "lo", "type": "quantitative", "scale": {"domain": [52.8, 301.5], "nice": false, "zero": false},
                     "axis": {"orient": "right", "values": [60,80,100,120,140,160,180,200,220,240,260,280,300], "tickSize": {"condition": {"test": "datum.value % 100 == 0", "value": -11}, "value": -7}, "labels": false, "title": null}},
               "y2": {"field": "hi"}}},
            {"data": {"name": "mb"}, "transform": [{"filter": "datum.s == 'C2' && datum.c == 'Planck'"}],
             "mark": {"type": "line", "color": "#ff0000", "strokeWidth": 3},
             "encoding": {"x": {"field": "R", "type": "quantitative", "axis": null}, "y": {"field": "y", "type": "quantitative", "axis": null}}},
            {"data": {"name": "mb"}, "transform": [{"filter": "datum.s == 'C2' && datum.c == 'Lensing'"}],
             "mark": {"type": "line", "color": "#0000ff", "strokeWidth": 3},
             "encoding": {"x": {"field": "R", "type": "quantitative", "axis": null}, "y": {"field": "y", "type": "quantitative", "axis": null}}},
            {"data": {"name": "boss"}, "transform": [{"filter": "datum.s == 'C2'"}],
             "mark": {"type": "rule", "color": "black", "strokeWidth": 2.6, "clip": true},
             "encoding": {"x": {"field": "R", "type": "quantitative", "axis": null}, "y": {"field": "lo", "type": "quantitative", "axis": null}, "y2": {"field": "hi"}}},
            {"data": {"name": "boss"}, "transform": [{"filter": "datum.s == 'C2'"}],
             "mark": {"type": "point", "shape": "M0,-1L1,1L-1,1Z", "filled": true, "opacity": 1, "color": "black", "size": 200},
             "encoding": {"x": {"field": "R", "type": "quantitative", "axis": null}, "y": {"field": "y", "type": "quantitative", "axis": null}}}
          ],
          "resolve": {"axis": {"x": "independent", "y": "independent"}}
        }
      ]
    }
  ],
  "config": {
    "font": "Liberation Serif",
    "view": {"stroke": "black", "strokeWidth": 4},
    "axis": {"grid": false, "domain": false, "tickColor": "black", "tickWidth": 1.6,
             "labelFont": "Liberation Serif", "labelFontSize": 30, "labelColor": "black",
             "titleFont": "Liberation Serif", "titleFontSize": 27, "titleFontWeight": "normal", "titleColor": "black",
             "labelOverlap": false, "labelFlush": false, "labelBound": false}
  }
}
